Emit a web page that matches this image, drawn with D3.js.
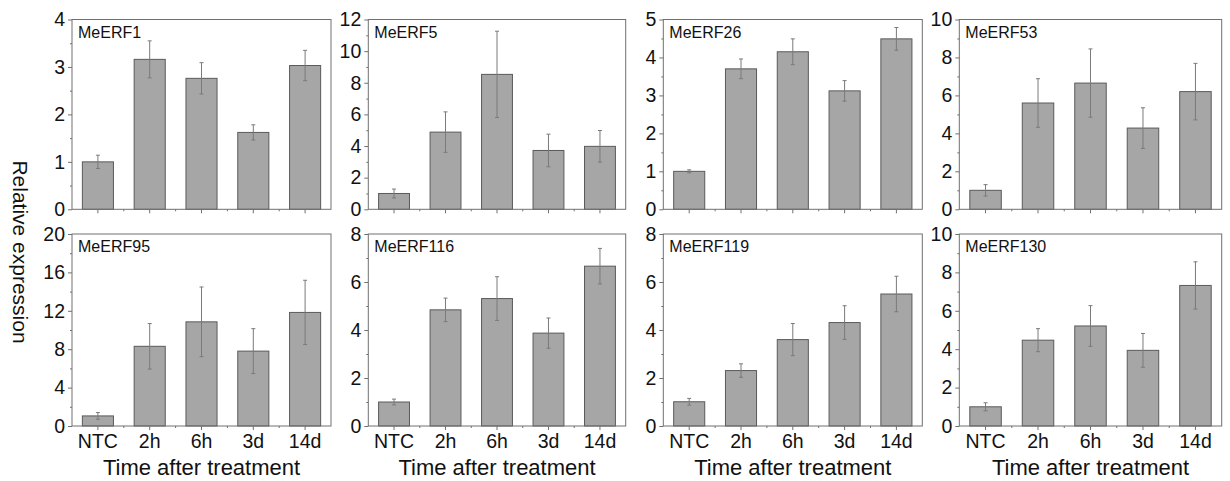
<!DOCTYPE html>
<html>
<head>
<meta charset="utf-8">
<script src="https://cdn.jsdelivr.net/npm/d3@7"></script>
<style>
  html, body { margin: 0; padding: 0; background: #fff; }
  svg { display: block; font-family: "Liberation Sans", Arial, sans-serif; }
</style>
</head>
<body>
<svg id="chart" width="1230" height="481"></svg>
<script>
const categories = ["NTC", "2h", "6h", "3d", "14d"];
const genes = ["MeERF1", "MeERF5", "MeERF26", "MeERF53", "MeERF95", "MeERF116", "MeERF119", "MeERF130"];

const meERF1   = [1.00, 3.16, 2.76, 1.62, 3.03];
const meERF5   = [1.00, 4.88, 8.53, 3.72, 3.98];
const meERF26  = [1.00, 3.70, 4.15, 3.12, 4.49];
const meERF53  = [1.00, 5.60, 6.65, 4.28, 6.20];
const meERF95  = [1.05, 8.30, 10.85, 7.80, 11.83];
const meERF116 = [1.00, 4.84, 5.31, 3.87, 6.66];
const meERF119 = [1.01, 2.31, 3.60, 4.31, 5.50];
const meERF130 = [1.00, 4.47, 5.21, 3.94, 7.32];

const err1   = [0.14, 0.39, 0.33, 0.16, 0.32];
const err5   = [0.28, 1.28, 2.73, 1.03, 1.00];
const err26  = [0.04, 0.26, 0.34, 0.27, 0.30];
const err53  = [0.30, 1.28, 1.80, 1.07, 1.49];
const err95  = [0.35, 2.37, 3.63, 2.34, 3.35];
const err116 = [0.12, 0.49, 0.91, 0.63, 0.74];
const err119 = [0.14, 0.28, 0.67, 0.70, 0.74];
const err130 = [0.21, 0.60, 1.06, 0.88, 1.23];

const yMaxes  = [4, 12, 5, 10, 20, 8, 8, 10];
const yMajors = [1, 2, 1, 2, 4, 2, 2, 2];

const values = [meERF1, meERF5, meERF26, meERF53, meERF95, meERF116, meERF119, meERF130];
const errors = [err1, err5, err26, err53, err95, err116, err119, err130];

const xAxisTitle = "Time after treatment";
const yAxisTitle = "Relative expression";

// layout
const lefts  = [72, 368.3, 663.3, 959.3];
const rights = [331, 625.7, 922.3, 1221.7];
const tops   = [19.5, 234];
const bottoms = [209.3, 426];

const svg = d3.select("#chart");
const frameColor = "#707070";
const barFill = "#a6a6a6";
const barStroke = "#5a5a5a";
const errColor = "#7a7a7a";

genes.forEach((gene, i) => {
  const row = Math.floor(i / 4), col = i % 4;
  const x0 = lefts[col], x1 = rights[col];
  const y0 = tops[row], y1 = bottoms[row];
  const g = svg.append("g");

  const x = d3.scaleBand().domain(categories).range([x0, x1]).paddingInner(0.4).paddingOuter(0.2);
  const y = d3.scaleLinear().domain([0, yMaxes[i]]).range([y1, y0]);

  const data = categories.map((c, k) => ({ c, v: values[i][k], e: errors[i][k] }));

  // bars
  g.selectAll("rect.bar").data(data).enter().append("rect")
    .attr("class", "bar")
    .attr("x", d => x(d.c))
    .attr("width", x.bandwidth())
    .attr("y", d => y(d.v))
    .attr("height", d => y(0) - y(d.v))
    .attr("fill", barFill)
    .attr("stroke", barStroke)
    .attr("stroke-width", 1);

  // error bars
  const eb = g.selectAll("g.err").data(data).enter().append("g").attr("class", "err")
    .attr("stroke", errColor).attr("stroke-width", 1);
  const cx = d => x(d.c) + x.bandwidth() / 2;
  eb.append("line").attr("x1", cx).attr("x2", cx)
    .attr("y1", d => y(d.v + d.e)).attr("y2", d => y(d.v - d.e));
  eb.append("line").attr("x1", d => cx(d) - 2).attr("x2", d => cx(d) + 2)
    .attr("y1", d => y(d.v + d.e)).attr("y2", d => y(d.v + d.e));
  eb.append("line").attr("x1", d => cx(d) - 2).attr("x2", d => cx(d) + 2)
    .attr("y1", d => y(d.v - d.e)).attr("y2", d => y(d.v - d.e));

  // frame
  g.append("rect").attr("x", x0).attr("y", y0).attr("width", x1 - x0).attr("height", y1 - y0)
    .attr("fill", "none").attr("stroke", frameColor).attr("stroke-width", 1);

  // y axis major ticks
  const majors = d3.range(0, yMaxes[i] + 1e-9, yMajors[i]);
  const minors = d3.range(yMajors[i] / 2, yMaxes[i], yMajors[i]);
  const yAxis = d3.axisLeft(y).tickValues(majors).tickSize(4).tickPadding(3).tickFormat(d3.format("d"));
  const ya = g.append("g").attr("transform", `translate(${x0},0)`).call(yAxis);
  ya.select(".domain").remove();
  ya.selectAll(".tick line").attr("stroke", frameColor);
  ya.selectAll(".tick text").attr("font-size", 19.5).attr("fill", "#111")
    .attr("font-family", "Liberation Sans, Arial, sans-serif");
  const yMinor = d3.axisLeft(y).tickValues(minors).tickSize(2).tickFormat("");
  const ym = g.append("g").attr("transform", `translate(${x0},0)`).call(yMinor);
  ym.select(".domain").remove();
  ym.selectAll(".tick line").attr("stroke", frameColor);

  // x axis ticks
  const xAxis = d3.axisBottom(x).tickSize(4).tickPadding(4)
    .tickFormat(row === 1 ? (d => d) : () => "");
  const xa = g.append("g").attr("transform", `translate(0,${y1})`).call(xAxis);
  xa.select(".domain").remove();
  xa.selectAll(".tick line").attr("stroke", frameColor);
  xa.selectAll(".tick text").attr("font-size", 19.5).attr("fill", "#111")
    .attr("font-family", "Liberation Sans, Arial, sans-serif");
  // minor x ticks between bands
  const step = x.step();
  const xMinorPos = categories.slice(1).map(c => x(c) - (step - x.bandwidth()) / 2);
  g.selectAll("line.xminor").data(xMinorPos).enter().append("line")
    .attr("x1", d => d).attr("x2", d => d).attr("y1", y1).attr("y2", y1 + 2)
    .attr("stroke", frameColor);

  // title
  g.append("text").attr("x", x0 + 6).attr("y", y0 + 18)
    .attr("font-size", 16).attr("fill", "#111").text(gene);

  // x axis title
  if (row === 1) {
    g.append("text").attr("x", (x0 + x1) / 2).attr("y", 475)
      .attr("text-anchor", "middle").attr("font-size", 22).attr("fill", "#111")
      .text(xAxisTitle);
  }
});

// y axis title
svg.append("text")
  .attr("transform", "translate(13,252) rotate(90)")
  .attr("text-anchor", "middle")
  .attr("font-size", 21).attr("fill", "#111")
  .text(yAxisTitle);
</script>
</body>
</html>
